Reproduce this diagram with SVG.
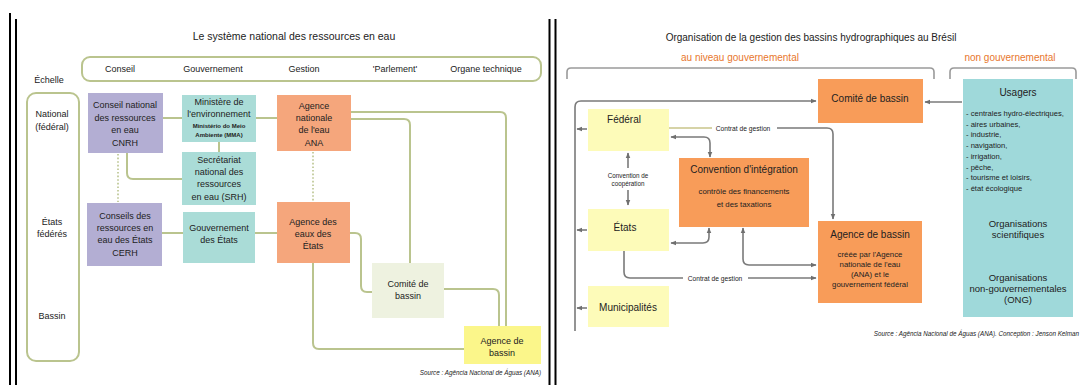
<svg xmlns="http://www.w3.org/2000/svg" width="1081" height="385" viewBox="0 0 1081 385">
<style>
text{font-family:"Liberation Sans",Arial,sans-serif;fill:#222}
.t9{font-size:9px;text-anchor:middle}
.t10{font-size:10px;text-anchor:middle}
.sm{font-size:6px;text-anchor:middle;font-weight:bold}
.src{font-size:6.3px;font-style:italic;text-anchor:end}
.lst{font-size:7.6px}
.sub{font-size:7.8px;text-anchor:middle}
.lab{font-size:6.7px;text-anchor:middle}
.org{font-size:10px;text-anchor:middle;fill:#e8772e}
.ol{fill:none;stroke:#bac48e;stroke-width:2}
.dot{fill:none;stroke:#bac48e;stroke-width:1.6;stroke-dasharray:1.6,2}
.gr{fill:none;stroke:#7a7a7a;stroke-width:1.6}
.br{fill:none;stroke:#9a9a9a;stroke-width:1.6}
.pur{fill:#b3aed3}
.tea{fill:#aadcd7}
.ora{fill:#f5a67c}
.lgr{fill:#eef2e0}
.yel{fill:#fbf68a}
.ora2{fill:#f89c59}
.yel2{fill:#fdfbb9}
.tea2{fill:#9fd9da}
</style>
<defs>
<marker id="ah" viewBox="0 0 10 10" refX="9" refY="5" markerWidth="6" markerHeight="6" markerUnits="userSpaceOnUse" orient="auto-start-reverse"><path d="M0,1 L10,5 L0,9 z" fill="#6f6f6f"/></marker>
</defs>
<rect width="1081" height="385" fill="#fff"/>
<g id="dividers">
<rect x="9" y="13" width="2" height="372" fill="#000"/>
<rect x="15" y="19" width="2" height="366" fill="#000"/>
<rect x="548.5" y="19" width="2" height="366" fill="#000"/>
<rect x="554.5" y="19" width="2" height="366" fill="#000"/>
</g>

<!-- LEFT PANEL -->
<text x="294" y="40" class="t10" style="font-size:10.5px">Le système national des ressources en eau</text>
<g id="header">
<rect x="82" y="57" width="459" height="24" rx="8" fill="#fff" stroke="#bac48e" stroke-width="2"/>
<text x="120" y="72" class="t9">Conseil</text>
<text x="213" y="72" class="t9">Gouvernement</text>
<text x="304" y="72" class="t9">Gestion</text>
<text x="395" y="72" class="t9">'Parlement'</text>
<text x="486" y="72" class="t9">Organe technique</text>
</g>
<g id="echelle">
<text x="49" y="83" class="t9">Échelle</text>
<rect x="27" y="93" width="52" height="268" rx="9" fill="#fff" stroke="#bac48e" stroke-width="2"/>
<text x="52" y="117" class="t9">National</text>
<text x="52" y="130" class="t9">(fédéral)</text>
<text x="52" y="225" class="t9">États</text>
<text x="52" y="237" class="t9">fédérés</text>
<text x="52" y="319" class="t9">Bassin</text>
</g>
<g id="connectors-left">
<path class="ol" d="M163,118 H182"/>
<path class="ol" d="M256,118 H277"/>
<path class="ol" d="M219,142 V152"/>
<path class="ol" d="M127,153 V173 Q127,179 133,179 H182"/>
<path class="dot" d="M118,154 V202"/>
<path class="dot" d="M313,152 V201"/>
<path class="ol" d="M162,233 H183"/>
<path class="ol" d="M255,233 H277"/>
<path class="ol" d="M351,112 H500 Q506,112 506,118 V326"/>
<path class="ol" d="M351,119 H404 Q410,119 410,125 V263"/>
<path class="ol" d="M350,233 H355 Q361,233 361,239 V286 Q361,292 367,292 H372"/>
<path class="ol" d="M444,289 H493 Q499,289 499,295 V326"/>
<path class="ol" d="M313,263 V343 Q313,349 319,349 H464"/>
</g>
<g id="cnrh">
<rect x="88" y="93" width="75" height="60" class="pur"/>
<text x="125" y="108" class="t9">Conseil national</text>
<text x="125" y="121" class="t9">des ressources</text>
<text x="125" y="133" class="t9">en eau</text>
<text x="125" y="146" class="t9">CNRH</text>
</g>
<g id="ministere">
<rect x="182" y="95" width="74" height="47" class="tea"/>
<text x="219" y="105" class="t9">Ministère de</text>
<text x="219" y="117" class="t9">l'environnement</text>
<text x="219" y="128" class="sm">Ministério do Meio</text>
<text x="219" y="137" class="sm">Ambiente (MMA)</text>
</g>
<g id="srh">
<rect x="182" y="152" width="74" height="53" class="tea"/>
<text x="219" y="163" class="t9">Secrétariat</text>
<text x="219" y="175" class="t9">national des</text>
<text x="219" y="187" class="t9">ressources</text>
<text x="219" y="200" class="t9">en eau (SRH)</text>
</g>
<g id="ana">
<rect x="277" y="95" width="74" height="56" class="ora"/>
<text x="314" y="109" class="t9">Agence</text>
<text x="314" y="121" class="t9">nationale</text>
<text x="314" y="133" class="t9">de l'eau</text>
<text x="314" y="146" class="t9">ANA</text>
</g>
<g id="cerh">
<rect x="87" y="203" width="75" height="63" class="pur"/>
<text x="125" y="219" class="t9">Conseils des</text>
<text x="125" y="231" class="t9">ressources en</text>
<text x="125" y="243" class="t9">eau des États</text>
<text x="125" y="256" class="t9">CERH</text>
</g>
<g id="gouv-etats">
<rect x="183" y="212" width="72" height="51" class="tea"/>
<text x="219" y="231" class="t9">Gouvernement</text>
<text x="219" y="243" class="t9">des États</text>
</g>
<g id="agence-eaux">
<rect x="277" y="202" width="73" height="61" class="ora"/>
<text x="313" y="225" class="t9">Agence des</text>
<text x="313" y="237" class="t9">eaux des</text>
<text x="313" y="249" class="t9">États</text>
</g>
<g id="comite-left">
<rect x="372" y="263" width="72" height="55" class="lgr"/>
<text x="408" y="287" class="t9">Comité de</text>
<text x="408" y="299" class="t9">bassin</text>
</g>
<g id="agence-bassin-left">
<rect x="464" y="326" width="77" height="38" class="yel"/>
<text x="502" y="344" class="t9">Agence de</text>
<text x="502" y="356" class="t9">bassin</text>
</g>
<text x="541" y="375" class="src">Source : Agência Nacional de Águas (ANA)</text>

<!-- RIGHT PANEL -->
<text x="811" y="41" class="t10">Organisation de la gestion des bassins hydrographiques au Brésil</text>
<text x="740" y="61" class="org">au niveau gouvernemental</text>
<text x="1010" y="61" class="org">non gouvernemental</text>
<g id="brackets">
<path class="br" d="M567,79 V72 Q567,68 571,68 H930 Q934,68 934,72 V79"/>
<path class="br" d="M950,79 V72 Q950,68 954,68 H1072 Q1076,68 1076,72 V79"/>
</g>
<g id="connectors-right">
<path class="gr" d="M575,331 V107 Q575,101 581,101 H816" marker-end="url(#ah)"/>
<path class="gr" d="M587,129 H577" marker-end="url(#ah)"/>
<path class="gr" d="M587,230 H577" marker-end="url(#ah)"/>
<path class="gr" d="M587,308 H577" marker-end="url(#ah)"/>
<path class="gr" d="M962,102 H925" marker-end="url(#ah)"/>
<path fill="none" stroke="#c9c48a" stroke-width="1.6" d="M669,128 H712"/>
<path class="gr" d="M777,128 H827 Q833,128 833,134 V219" marker-end="url(#ah)"/>
<path class="gr" d="M671,137 H704 Q710,137 710,143 V157" marker-start="url(#ah)" marker-end="url(#ah)"/>
<path class="gr" d="M671,243 H703 Q709,243 709,237 V228" marker-start="url(#ah)" marker-end="url(#ah)"/>
<path class="gr" d="M743,228 V259 Q743,265 749,265 H816" marker-start="url(#ah)" marker-end="url(#ah)"/>
<path class="gr" d="M624,251 V272 Q624,278 630,278 H683"/>
<path class="gr" d="M748,278 H816" marker-end="url(#ah)"/>
<path class="gr" d="M628,153 V168" marker-start="url(#ah)"/>
<path class="gr" d="M628,190 V205" marker-end="url(#ah)"/>
<text x="743" y="130.5" class="lab">Contrat de gestion</text>
<text x="715" y="280.5" class="lab">Contrat de gestion</text>
<text x="628" y="178" class="lab" style="font-size:6.3px">Convention de</text>
<text x="628" y="186" class="lab" style="font-size:6.3px">coopération</text>
</g>
<g id="comite-right">
<rect x="818" y="79" width="105" height="44" class="ora2"/>
<text x="870" y="101.5" class="t10">Comité de bassin</text>
</g>
<g id="usagers">
<rect x="963" y="79" width="110" height="238" class="tea2"/>
<text x="1018" y="95.5" class="t10">Usagers</text>
<text x="966" y="116" class="lst">- centrales hydro-électriques,</text>
<text x="966" y="126.7" class="lst">- aires urbaines,</text>
<text x="966" y="137.4" class="lst">- industrie,</text>
<text x="966" y="148.1" class="lst">- navigation,</text>
<text x="966" y="158.8" class="lst">- irrigation,</text>
<text x="966" y="169.5" class="lst">- pêche,</text>
<text x="966" y="180.2" class="lst">- tourisme et loisirs,</text>
<text x="966" y="190.9" class="lst">- état écologique</text>
<text x="1018" y="227" class="t10" style="font-size:9.5px">Organisations</text>
<text x="1018" y="238" class="t10" style="font-size:9.5px">scientifiques</text>
<text x="1018" y="281" class="t10" style="font-size:9.5px">Organisations</text>
<text x="1018" y="292" class="t10" style="font-size:9.5px">non-gouvernementales</text>
<text x="1018" y="303" class="t10" style="font-size:9.5px">(ONG)</text>
</g>
<g id="federal">
<rect x="588" y="109" width="81" height="42" class="yel2"/>
<text x="624" y="122.5" class="t10">Fédéral</text>
</g>
<g id="etats">
<rect x="588" y="209" width="81" height="42" class="yel2"/>
<text x="625" y="230.5" class="t10">États</text>
</g>
<g id="municipalites">
<rect x="588" y="286" width="81" height="41" class="yel2"/>
<text x="628" y="310.5" class="t10">Municipalités</text>
</g>
<g id="convention">
<rect x="679" y="158" width="130" height="69" class="ora2"/>
<text x="744" y="172.5" class="t10">Convention d'intégration</text>
<text x="744" y="194" class="sub">contrôle des financements</text>
<text x="744" y="207" class="sub">et des taxations</text>
</g>
<g id="agence-bassin-right">
<rect x="818" y="221" width="104" height="82" class="ora2"/>
<text x="870" y="237.5" class="t10">Agence de bassin</text>
<text x="870" y="256.5" class="sub">créée par l'Agence</text>
<text x="870" y="266.5" class="sub">nationale de l'eau</text>
<text x="870" y="276.5" class="sub">(ANA) et le</text>
<text x="870" y="286.5" class="sub">gouvernement fédéral</text>
</g>
<text x="1079" y="336" class="src">Source : Agência Nacional de Águas (ANA). Conception : Jenson Kelman</text>
</svg>
